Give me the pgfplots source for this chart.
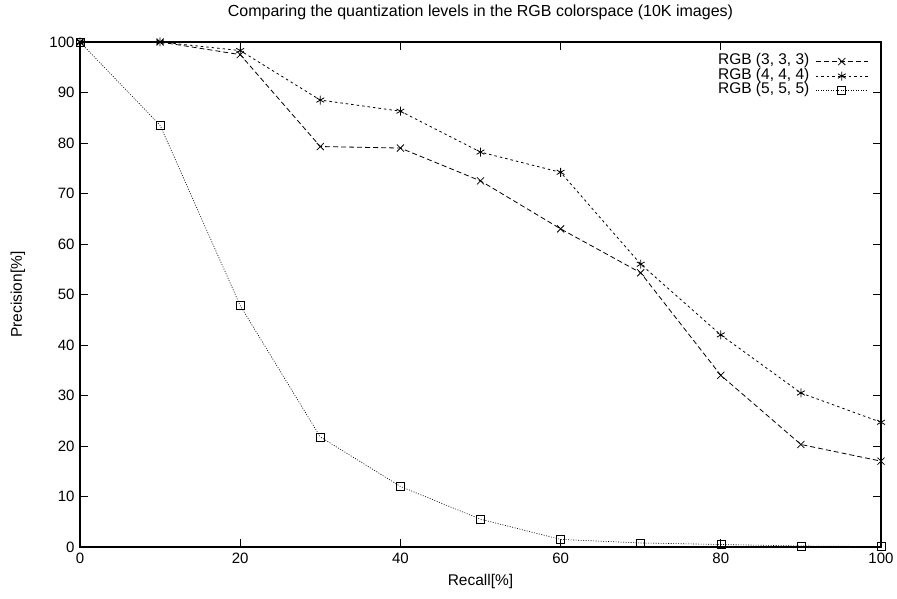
\documentclass[border=0pt]{standalone}
\usepackage{fontspec}
\setmainfont{Liberation Sans}
\usepackage{pgfplots}
\pgfplotsset{compat=1.18}
\begin{document}
\begin{tikzpicture}
\begin{axis}[
    at={(0pt,0pt)}, anchor=south west,
    scale only axis,
    width=801pt, height=505pt,
    xmin=0, xmax=100, ymin=0, ymax=100,
    xtick={0,20,...,100}, ytick={0,10,...,100},
    tick align=inside, major tick length=8pt,
    tick style={black, line width=0.8pt},
    axis line style={line width=1.1pt},
    /pgf/number format/assume math mode=true,
    ticklabel style={font=\fontsize{15}{16}\selectfont},
    xticklabel style={yshift=-2pt},
    yticklabel style={xshift=-2pt},
    title={Comparing the quantization levels in the RGB colorspace (10K images)},
    title style={font=\fontsize{16}{18}\selectfont, at={(axis description cs:0.5,1.0475)}, anchor=center},
    xlabel={Recall[\%]}, ylabel={Precision[\%]},
    xlabel style={font=\fontsize{15.5}{17}\selectfont, at={(axis description cs:0.5,-0.069)}, anchor=center},
    ylabel style={font=\fontsize{15.5}{17}\selectfont, at={(axis description cs:-0.0775,0.5)}, anchor=center},
    legend plot pos=right,
    legend cell align=right,
    legend style={draw=none, fill=none, font=\fontsize{15.5}{16}\selectfont,
                  at={(axis description cs:0.988,0.98)}, anchor=north east,
                  nodes={inner sep=1pt, text height=9.5pt, text depth=3pt},
                  row sep=0pt,
                  /tikz/every odd column/.append style={column sep=5pt}},
    legend image code/.code={
        \draw[#1, mark repeat=2, mark phase=2] plot coordinates {(0pt,0pt) (26pt,0pt) (52pt,0pt)};
    },
]
\addplot[black, line width=0.8pt, dash pattern=on 5pt off 3pt, mark=x, mark size=5pt,
    mark options={solid}] coordinates {
    (0,100) (10,100) (20,97.5) (30,79.3) (40,79) (50,72.5) (60,63) (70,54.3) (80,34) (90,20.3) (100,17)
};
\addplot[black, line width=0.8pt, dash pattern=on 2.5pt off 3pt, mark=asterisk, mark size=4.5pt,
    mark options={solid}] coordinates {
    (0,100) (10,100) (20,98.3) (30,88.5) (40,86.3) (50,78.2) (60,74.2) (70,56) (80,42) (90,30.5) (100,24.7)
};
\addplot[black, line width=0.6pt, dash pattern=on 1pt off 1.5pt, mark=square, mark size=4pt,
    mark options={solid}] coordinates {
    (0,100) (10,83.5) (20,47.8) (30,21.8) (40,12) (50,5.5) (60,1.5) (70,0.8) (80,0.5) (90,0.2) (100,0.1)
};
\legend{{RGB (3, 3, 3)}, {RGB (4, 4, 4)}, {RGB (5, 5, 5)}}
\end{axis}
\pgfresetboundingbox
\path (-80pt,-52pt) rectangle (817pt,547pt);
\end{tikzpicture}
\end{document}
